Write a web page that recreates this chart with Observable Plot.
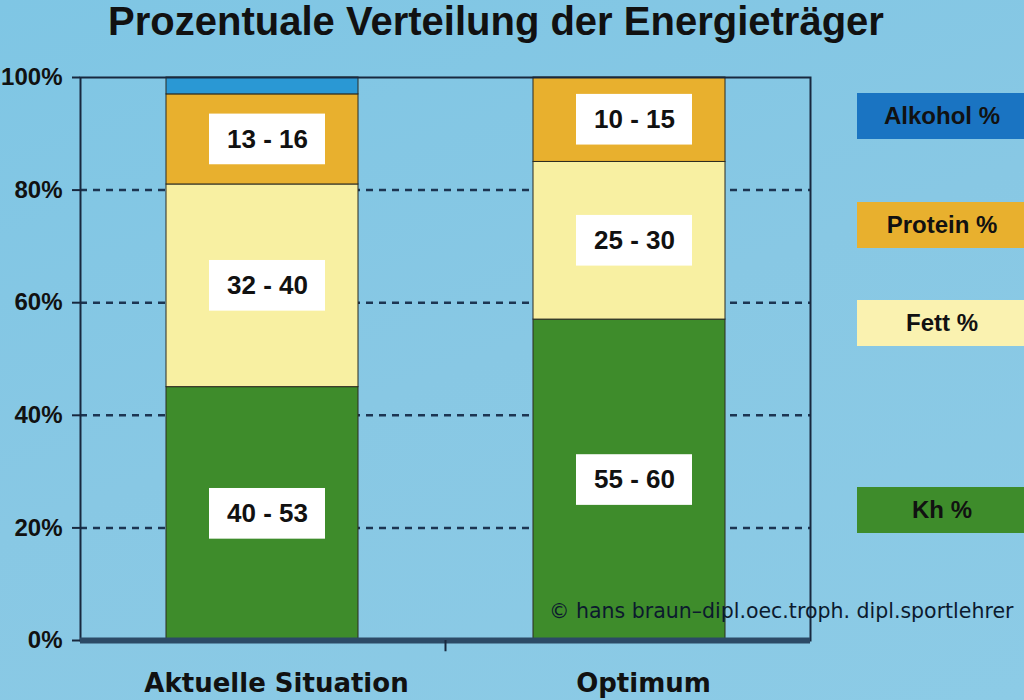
<!DOCTYPE html>
<html>
<head>
<meta charset="utf-8">
<script src="https://cdn.jsdelivr.net/npm/d3@7"></script>
<script src="https://cdn.jsdelivr.net/npm/@observablehq/plot@0.6"></script>
<style>
  html, body { margin: 0; padding: 0; }
  body { width: 1024px; height: 700px; overflow: hidden;
         background: linear-gradient(160deg, #7fc6e4 0%, #88c8e4 50%, #8ccbe6 100%);
         font-family: "Liberation Sans", Arial, sans-serif; }
  #wrap { position: relative; width: 1024px; height: 700px; }
  #title { position: absolute; left: 0; top: 0; width: 992px; height: 50px; text-align: center;
           font: bold 40px "Liberation Sans", Arial, sans-serif; line-height: 42px; color: #111; }
  #chart { position: absolute; left: 0; top: 50px; }
  .leg { position: absolute; left: 857px; width: 170px; height: 46px;
         text-align: center; font: bold 24px "Liberation Sans", Arial, sans-serif; line-height: 46px; color: #111; }
  #copy { position: absolute; left: 549px; top: 599px; font: 20.5px "DejaVu Sans", sans-serif;
          color: #0c1a2e; white-space: nowrap; }
</style>
</head>
<body>
<div id="wrap">
  <div id="title">Prozentuale Verteilung der Energieträger</div>
  <div id="chart"></div>
  <div id="legend"></div>
  <div id="copy">© hans braun–dipl.oec.troph. dipl.sportlehrer</div>
</div>
<script>
// ---- data ----
const situations = ["Aktuelle Situation", "Optimum"];
const carriers = ["Kh %", "Fett %", "Protein %", "Alkohol %"];
const aktuelleValues = [45, 36, 16, 3];
const optimumValues = [57, 28, 15, 0];
const aktuelleLabels = ["40 - 53", "32 - 40", "13 - 16", ""];
const optimumLabels = ["55 - 60", "25 - 30", "10 - 15", ""];
const yTicks = [0, 20, 40, 60, 80, 100];
const colors = ["#3e8c2b", "#f8f0a2", "#e8b02e", "#2a98d4"];
const legendColors = ["#3e8c2b", "#faf2b0", "#e8b02e", "#1a74c2"];

// ---- build table ----
const rows = [];
const series = [[situations[0], aktuelleValues, aktuelleLabels], [situations[1], optimumValues, optimumLabels]];
for (const [s, vals, labs] of series) {
  let cum = 0;
  carriers.forEach((c, i) => {
    rows.push({situation: s, carrier: c, value: vals[i], label: labs[i], mid: cum + vals[i] / 2});
    cum += vals[i];
  });
}
const labelRows = rows.filter(d => d.label);
const boxHalf = 4.5;

const chart = Plot.plot({
  width: 1024,
  height: 650,
  marginLeft: 80,
  marginRight: 214,
  marginTop: 27,
  marginBottom: 60,
  style: {background: "transparent", color: "#111"},
  x: {domain: situations, paddingInner: 0.478, paddingOuter: 0.231, label: null},
  y: {domain: [0, 100], label: null},
  color: {domain: carriers, range: colors},
  marks: [
    Plot.gridY([20, 40, 60, 80], {stroke: "#1c3552", strokeOpacity: 1, strokeWidth: 2.5, strokeDasharray: "7,6"}),
    Plot.barY(rows, {x: "situation", y: "value", fill: "carrier", order: carriers, stroke: "#2a2a20", strokeWidth: 1}),
    Plot.frame({stroke: "#18283e", strokeWidth: 2}),
    Plot.ruleY([0], {stroke: "#2c4a66", strokeWidth: 6}),
    Plot.ruleX([situations[1]], {x: d => d, y1: 0, y2: -2, dx: -184, stroke: "#18283e", strokeWidth: 2}),
    Plot.rect(labelRows, {x: "situation", y1: d => d.mid - boxHalf, y2: d => d.mid + boxHalf,
      insetLeft: 38, insetRight: 38, dx: 5, fill: "white"}),
    Plot.text(labelRows, {x: "situation", y: "mid", text: "label", dx: 5, fontSize: 26, fontWeight: "bold",
      fill: "#111", fontFamily: "Liberation Sans, Arial, sans-serif"}),
    Plot.axisY({ticks: yTicks, tickFormat: d => d + "%", tickSize: 8, tickPadding: 10, fontSize: 24,
      fontWeight: "bold", fontFamily: "Liberation Sans, Arial, sans-serif", stroke: "#18283e", strokeWidth: 2}),
    Plot.axisX({tickSize: 0, fontSize: 26, fontWeight: "bold", fontFamily: "DejaVu Sans, sans-serif",
      dy: 24, dx: 14, fill: "#111"})
  ]
});
document.getElementById("chart").appendChild(chart);

// legend
const legTops = {"Alkohol %": 93, "Protein %": 202, "Fett %": 300, "Kh %": 487};
const legend = document.getElementById("legend");
carriers.slice().reverse().forEach(c => {
  const d = document.createElement("div");
  d.className = "leg";
  d.style.top = legTops[c] + "px";
  d.style.background = legendColors[carriers.indexOf(c)];
  d.textContent = c;
  legend.appendChild(d);
});
</script>
</body>
</html>
